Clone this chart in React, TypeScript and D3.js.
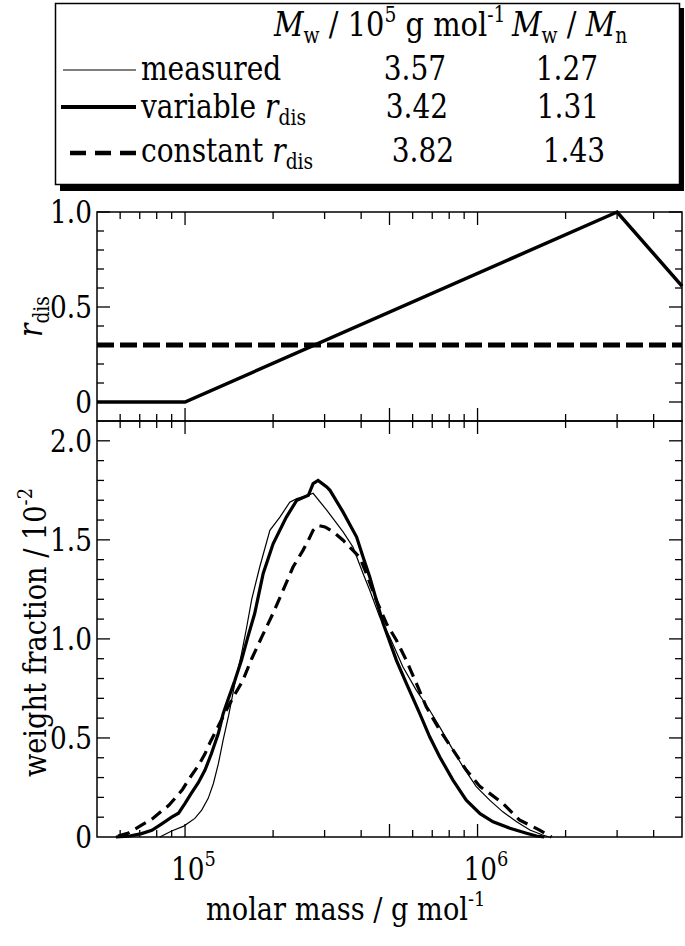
import React from 'react';
import * as d3 from 'd3';

const FONT = 'DejaVu Serif';
const SX = 0.85; // horizontal squeeze so the wide serif face takes the space of the original Times text

// r_dis profile, molar mass in 10^5 g/mol
const rdisVariableM = [0.5, 1, 30, 50];
const rdisVariable = [0, 0, 1.0, 0.61];
const rdisConstantM = [0.5, 50];
const rdisConstant = [0.3, 0.3];

// weight fraction (10^-2) vs molar mass (10^5 g/mol)
const measuredM = [0.82, 0.9, 0.99, 1.08, 1.14, 1.2, 1.25, 1.3, 1.35, 1.41, 1.48, 1.56, 1.62, 1.69, 1.8, 1.95, 2.11, 2.28, 2.41, 2.64, 2.74, 3.05, 3.47, 3.75, 4.06, 4.28, 4.63, 5.01, 5.56, 6.18, 6.86, 7.42, 8.24, 8.91, 9.9, 11.0, 12.2, 13.6, 15.1, 16.7, 17.6];
const measuredW = [0, 0.03, 0.055, 0.094, 0.136, 0.195, 0.27, 0.37, 0.49, 0.615, 0.775, 0.926, 1.05, 1.2, 1.363, 1.548, 1.615, 1.69, 1.708, 1.725, 1.735, 1.65, 1.54, 1.464, 1.33, 1.246, 1.11, 1.01, 0.858, 0.74, 0.64, 0.556, 0.44, 0.355, 0.254, 0.186, 0.127, 0.077, 0.035, 0.01, 0];

const variableM = [0.58, 0.64, 0.71, 0.77, 0.83, 0.9, 0.95, 1.0, 1.05, 1.11, 1.17, 1.23, 1.3, 1.35, 1.4, 1.48, 1.56, 1.64, 1.73, 1.85, 2.0, 2.22, 2.41, 2.64, 2.74, 2.85, 3.05, 3.13, 3.47, 3.86, 4.06, 4.28, 4.51, 4.75, 5.28, 5.71, 6.34, 6.86, 7.42, 8.24, 9.15, 10.2, 11.3, 12.9, 14.7, 15.9, 16.9];
const variableW = [0, 0.004, 0.017, 0.034, 0.065, 0.1, 0.12, 0.17, 0.22, 0.274, 0.338, 0.42, 0.523, 0.623, 0.69, 0.79, 0.893, 1.01, 1.128, 1.33, 1.48, 1.615, 1.7, 1.725, 1.784, 1.8, 1.767, 1.75, 1.64, 1.514, 1.413, 1.313, 1.195, 1.08, 0.892, 0.775, 0.624, 0.506, 0.405, 0.287, 0.186, 0.118, 0.077, 0.044, 0.019, 0.005, 0];

const constantM = [0.59, 0.64, 0.71, 0.77, 0.83, 0.88, 0.93, 0.98, 1.04, 1.11, 1.17, 1.22, 1.3, 1.4, 1.48, 1.57, 1.69, 1.83, 2.0, 2.14, 2.34, 2.53, 2.64, 2.74, 2.85, 3.01, 3.21, 3.47, 3.75, 3.96, 4.17, 4.51, 4.88, 5.28, 5.71, 6.18, 6.68, 7.42, 8.24, 9.15, 10.2, 11.0, 12.2, 13.9, 16.3, 17.9];
const constantW = [0.005, 0.02, 0.06, 0.09, 0.13, 0.16, 0.2, 0.24, 0.3, 0.36, 0.42, 0.48, 0.56, 0.655, 0.72, 0.785, 0.9, 1.01, 1.13, 1.229, 1.363, 1.447, 1.498, 1.548, 1.573, 1.565, 1.54, 1.498, 1.447, 1.41, 1.33, 1.195, 1.078, 0.993, 0.892, 0.775, 0.657, 0.54, 0.44, 0.338, 0.254, 0.22, 0.17, 0.086, 0.035, 0];

// legend table
const legendNames = ['measured', 'variable ', 'constant '];
const legendHasR = [false, true, true];
const mwValues = ['3.57', '3.42', '3.82'];
const pdiValues = ['1.27', '1.31', '1.43'];

const topTickLabels = ['0', '0.5', '1.0'];
const topTickValues = [0, 0.5, 1.0];
const botTickLabels = ['0', '0.5', '1.0', '1.5', '2.0'];
const botTickValues = [0, 0.5, 1.0, 1.5, 2.0];
const xLabelExps = [5, 6];

const W = 685;
const H = 946;

type TProps = {
  x: number;
  y: number;
  size: number;
  anchor?: 'start' | 'middle' | 'end';
  rotate?: boolean;
  children: React.ReactNode;
};

// squeezed text placed at (x, y)
function T({ x, y, size, anchor = 'start', rotate = false, children }: TProps) {
  const tr = rotate
    ? `translate(${x},${y}) rotate(-90) scale(${SX},1)`
    : `translate(${x},${y}) scale(${SX},1)`;
  return (
    <g transform={tr}>
      <text x={0} y={0} fontSize={size} textAnchor={anchor} fontFamily={FONT}>{children}</text>
    </g>
  );
}

export default function App() {
  const left = 97;
  const right = 682;
  const x = d3.scaleLog().domain([5e4, 5e6]).range([left, right]);
  const yTop = d3.scaleLinear().domain([-0.1, 1.0]).range([421, 212]);
  const yBot = d3.scaleLinear().domain([0, 2.1]).range([837, 421]);

  const xTicks = [1e4, 1e5, 1e6]
    .flatMap((d) => d3.range(1, 10).map((m) => ({ v: m * d, major: m === 1 || m === 5 })))
    .filter((t) => t.v > 5.01e4 && t.v < 4.99e6);

  const topYTicks = d3.range(0, 11).map((i) => ({ v: i / 10, major: i % 5 === 0 }));
  const botYTicks = d3.range(1, 21).map((i) => ({ v: i / 10, major: i % 5 === 0 }));

  const lineTop = d3.line<[number, number]>()
    .x((d) => x(d[0] * 1e5))
    .y((d) => yTop(d[1]));
  const lineBot = d3.line<[number, number]>()
    .x((d) => x(d[0] * 1e5))
    .y((d) => yBot(d[1]));

  const zip = (a: number[], b: number[]) => a.map((v, i) => [v, b[i]] as [number, number]);

  const tickLen = (major: boolean) => (major ? 13 : 7);

  const rowBase = [80, 118, 162];
  const rowLine = [70, 107, 153];
  const mwX = [415, 417, 423];
  const pdiX = [567, 568, 574];

  return (
    <svg width={W} height={H} style={{ position: 'absolute', left: 0, top: 0, background: '#fff' }}>
      {/* legend box with shadow */}
      <rect x={60} y={8} width={624} height={183} fill="#000" />
      <rect x={55.5} y={3.5} width={624} height={181} fill="#fff" stroke="#000" strokeWidth={1.5} />

      <T x={274} y={36} size={34}>
        <tspan fontStyle="italic">M</tspan>
        <tspan dy={7} fontSize={22}>w</tspan>
        <tspan dy={-7}> / 10</tspan>
        <tspan dy={-14} fontSize={22}>5</tspan>
        <tspan dy={14}> g mol</tspan>
        <tspan dy={-14} fontSize={22}>-1</tspan>
      </T>
      <T x={512} y={36} size={34}>
        <tspan fontStyle="italic">M</tspan>
        <tspan dy={7} fontSize={22}>w</tspan>
        <tspan dy={-7}> / </tspan>
        <tspan fontStyle="italic">M</tspan>
        <tspan dy={7} fontSize={22}>n</tspan>
      </T>

      <line x1={63} x2={136} y1={rowLine[0]} y2={rowLine[0]} stroke="#000" strokeWidth={1.2} />
      <line x1={61} x2={136} y1={rowLine[1]} y2={rowLine[1]} stroke="#000" strokeWidth={4} />
      <line x1={70} x2={136} y1={rowLine[2]} y2={rowLine[2]} stroke="#000" strokeWidth={4.5}
        strokeDasharray="16 9" />

      {legendNames.map((name, i) => (
        <g key={name}>
          <T x={141} y={rowBase[i]} size={33}>
            {name}
            {legendHasR[i] && (
              <>
                <tspan fontStyle="italic">r</tspan>
                <tspan dy={7} fontSize={22}>dis</tspan>
              </>
            )}
          </T>
          <T x={mwX[i]} y={rowBase[i]} size={33} anchor="middle">{mwValues[i]}</T>
          <T x={pdiX[i]} y={rowBase[i]} size={33} anchor="middle">{pdiValues[i]}</T>
        </g>
      ))}

      {/* top panel: r_dis */}
      <path d={lineTop(zip(rdisConstantM, rdisConstant)) ?? ''} fill="none" stroke="#000"
        strokeWidth={5} strokeDasharray="17 6" />
      <path d={lineTop(zip(rdisVariableM, rdisVariable)) ?? ''} fill="none" stroke="#000"
        strokeWidth={3.5} />

      {/* bottom panel: weight fraction */}
      <path d={lineBot(zip(measuredM, measuredW)) ?? ''} fill="none" stroke="#000" strokeWidth={1.2} />
      <path d={lineBot(zip(variableM, variableW)) ?? ''} fill="none" stroke="#000" strokeWidth={3.2} />
      <path d={lineBot(zip(constantM, constantW)) ?? ''} fill="none" stroke="#000" strokeWidth={3.2}
        strokeDasharray="12 7" />

      {/* frames */}
      <rect x={left} y={yTop(1.0)} width={right - left} height={yTop(-0.1) - yTop(1.0)}
        fill="none" stroke="#000" strokeWidth={1.5} />
      <rect x={left} y={yBot(2.1)} width={right - left} height={yBot(0) - yBot(2.1)}
        fill="none" stroke="#000" strokeWidth={1.5} />

      {/* x ticks */}
      {xTicks.map((t) => {
        const px = x(t.v);
        const l = tickLen(t.major);
        return (
          <g key={t.v} stroke="#000" strokeWidth={1.3}>
            <line x1={px} x2={px} y1={yTop(1.0)} y2={yTop(1.0) + l} />
            <line x1={px} x2={px} y1={yTop(-0.1)} y2={yTop(-0.1) - l} />
            <line x1={px} x2={px} y1={yBot(2.1)} y2={yBot(2.1) + l} />
            <line x1={px} x2={px} y1={yBot(0)} y2={yBot(0) - l} />
          </g>
        );
      })}

      {/* y ticks */}
      {topYTicks.map((t) => {
        const py = yTop(t.v);
        const l = tickLen(t.major);
        return (
          <g key={`t${t.v}`} stroke="#000" strokeWidth={1.3}>
            <line x1={left} x2={left + l} y1={py} y2={py} />
            <line x1={right} x2={right - l} y1={py} y2={py} />
          </g>
        );
      })}
      {botYTicks.map((t) => {
        const py = yBot(t.v);
        const l = tickLen(t.major);
        return (
          <g key={`b${t.v}`} stroke="#000" strokeWidth={1.3}>
            <line x1={left} x2={left + l} y1={py} y2={py} />
            <line x1={right} x2={right - l} y1={py} y2={py} />
          </g>
        );
      })}

      {/* tick labels */}
      {topTickValues.map((v, i) => (
        <T key={`tl${v}`} x={92} y={yTop(v) + 11} size={31} anchor="end">{topTickLabels[i]}</T>
      ))}
      {botTickValues.map((v, i) => (
        <T key={`bl${v}`} x={92} y={yBot(v) + 11} size={31} anchor="end">{botTickLabels[i]}</T>
      ))}
      {xLabelExps.map((e) => (
        <T key={`xl${e}`} x={x(10 ** e) - 14} y={880} size={31}>
          10<tspan dy={-14} fontSize={21}>{e}</tspan>
        </T>
      ))}

      {/* axis titles */}
      <T x={206} y={920} size={32}>
        molar mass / g mol<tspan dy={-14} fontSize={21}>-1</tspan>
      </T>
      <T x={46} y={777} size={32} rotate>
        weight fraction / 10<tspan dy={-14} fontSize={21}>-2</tspan>
      </T>
      <T x={42} y={337} size={33} rotate>
        <tspan fontStyle="italic">r</tspan>
        <tspan dy={7} fontSize={22}>dis</tspan>
      </T>
    </svg>
  );
}
